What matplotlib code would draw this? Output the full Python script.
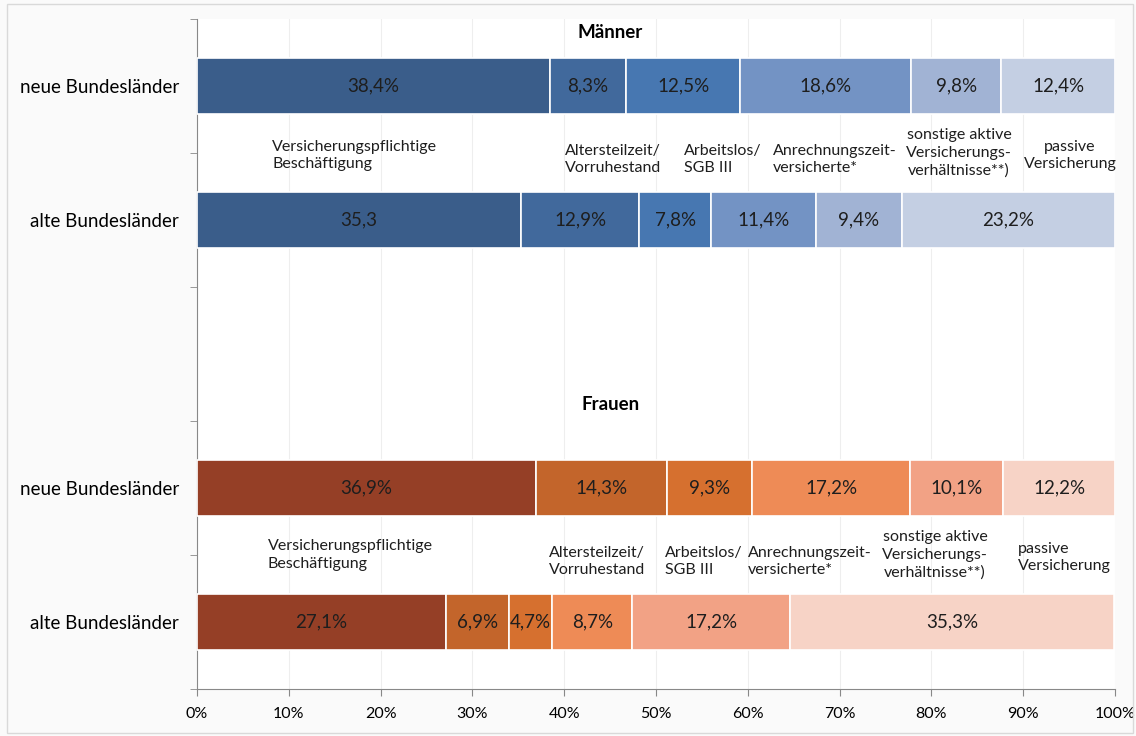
import matplotlib.pyplot as plt
import numpy as np

plt.rcParams['font.family'] = ['Lato', 'DejaVu Sans']

# Anteile in Prozent, Reihenfolge der Versicherungsarten
arten = ["Versicherungspflichtige\nBeschäftigung", "Altersteilzeit/\nVorruhestand",
         "Arbeitslos/\nSGB III", "Anrechnungszeit-\nversicherte*",
         "sonstige aktive\nVersicherungs-\nverhältnisse**)", "passive\nVersicherung"]
zeilen = ["neue Bundesländer", "alte Bundesländer", "", "neue Bundesländer", "alte Bundesländer"]

maenner_neu = [38.4, 8.3, 12.5, 18.6, 9.8, 12.4]
maenner_alt = [35.3, 12.9, 7.8, 11.4, 9.4, 23.2]
frauen_neu = [36.9, 14.3, 9.3, 17.2, 10.1, 12.2]
frauen_alt = [27.1, 6.9, 4.7, 8.7, 17.2, 35.3]

farben_m = ["#3A5D8A", "#41699C", "#4777B1", "#7393C4", "#A1B3D4", "#C4CFE3"]
farben_f = ["#953F26", "#C3652B", "#D6702F", "#EE8B56", "#F2A285", "#F7D3C6"]

fig = plt.figure(figsize=(11.36, 7.36), dpi=100, facecolor="#FAFAFA")
ax = fig.add_axes([197/1136, 1 - 689/736, (1115-197)/1136, (689-19)/736])
ax.set_facecolor("white")

def balken(y, werte, farben, ohne_prozent=()):
    links = 0
    for i, (w, c) in enumerate(zip(werte, farben)):
        ax.barh(y, w, left=links, height=0.42, color=c, edgecolor="white", linewidth=1.2, zorder=3)
        txt = f"{w:.1f}".replace(".", ",")
        if i not in ohne_prozent:
            txt += "%"
        ax.text(links + w / 2, y, txt, ha="center", va="center", fontsize=13.5, color="#1E1E1E", zorder=4)
        links += w

balken(0, maenner_neu, farben_m)
balken(1, maenner_alt, farben_m, ohne_prozent=(0,))
balken(3, frauen_neu, farben_f)
balken(4, frauen_alt, farben_f)

# Beschriftungen der Versicherungsarten zwischen den Balken
pos_m = [(8.2, 0.52, "left"), (40.1, 0.55, "left"), (53.0, 0.55, "left"),
         (62.7, 0.55, "left"), (83.0, 0.50, "center"), (95.1, 0.52, "center")]
pos_f = [(7.7, 3.50, "left"), (38.3, 3.55, "left"), (51.0, 3.55, "left"),
         (60.0, 3.55, "left"), (80.4, 3.50, "center"), (89.4, 3.52, "left")]
for pos in (pos_m, pos_f):
    for name, (x, y, ha) in zip(arten, pos):
        ax.text(x, y, name, ha=ha, va="center", fontsize=11.5, color="#1E1E1E",
                linespacing=1.3, multialignment="center" if ha == "center" else "left", zorder=4)

ax.text(45.0, -0.40, "Männer", ha="center", va="center", fontsize=13.5, fontweight="bold", zorder=4)
ax.text(45.0, 2.38, "Frauen", ha="center", va="center", fontsize=13.5, fontweight="bold", zorder=4)

ax.set_xlim(0, 100)
ax.set_ylim(4.5, -0.5)
ax.set_xticks(np.arange(0, 101, 10))
ax.set_xticklabels([f"{v}%" for v in range(0, 101, 10)], fontsize=11.5)
ax.set_yticks(range(5))
ax.set_yticklabels(zeilen, fontsize=13.5)
ax.set_yticks(np.arange(-0.5, 4.6, 1), minor=True)
ax.tick_params(axis="y", which="major", length=0, pad=13)
ax.tick_params(axis="y", which="minor", length=5, color="#888888")
ax.tick_params(axis="x", length=5, color="#888888", pad=8)
ax.grid(axis="x", color="#EEEEEE", linewidth=0.8, zorder=0)

for s in ["top", "right"]:
    ax.spines[s].set_visible(False)
for s in ["left", "bottom"]:
    ax.spines[s].set_color("#888888")

# dünner Rahmen um die Grafik
fig.patches.append(plt.Rectangle((7/1136, 1 - 733/736), 1126/1136, 729/736,
                                 transform=fig.transFigure, fill=False,
                                 edgecolor="#D9D9D9", linewidth=1))

fig.savefig("out.png", dpi=100, facecolor=fig.get_facecolor())
